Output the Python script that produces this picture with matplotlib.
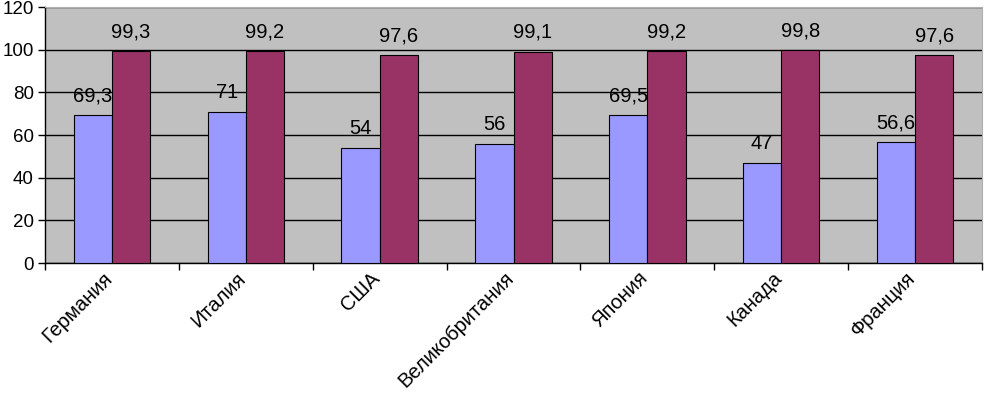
import numpy as np
import matplotlib.pyplot as plt

plt.rcParams['font.family'] = ['Liberation Sans', 'DejaVu Sans']

countries = ["Германия", "Италия", "США", "Великобритания", "Япония", "Канада", "Франция"]
series1 = [69.3, 71, 54, 56, 69.5, 47, 56.6]
series2 = [99.3, 99.2, 97.6, 99.1, 99.2, 99.8, 97.6]

fig = plt.figure(figsize=(9.84, 3.99), dpi=100)
ax = fig.add_axes([45/984, 1-263/399, 937/984, 256/399])

x = np.arange(len(countries))
w = 1/3.5
b1 = ax.bar(x - w/2, series1, w, color="#9999FF", edgecolor="black", linewidth=0.8, zorder=3)
b2 = ax.bar(x + w/2, series2, w, color="#993366", edgecolor="black", linewidth=0.8, zorder=3)

def fmt(v):
    return ("%g" % v).replace(".", ",")

for bars, vals in ((b1, series1), (b2, series2)):
    for r, v in zip(bars, vals):
        ax.annotate(fmt(v), (r.get_x() + r.get_width()/2, v), xytext=(0, 7),
                    textcoords="offset points", ha="center", va="bottom", fontsize=14.5)

ax.set_facecolor("#C0C0C0")
ax.set_xlim(-0.5, len(countries) - 0.5)
ax.set_ylim(0, 120)
ax.set_yticks(range(0, 121, 20))
ax.yaxis.grid(True, color="black", linewidth=1, zorder=1)
ax.set_axisbelow(True)

# category boundaries as major ticks, names as (invisible) minor ticks
ax.set_xticks(np.arange(len(countries) + 1) - 0.5)
ax.set_xticklabels([])
ax.set_xticks(x - 0.07, minor=True)
ax.set_xticklabels(countries, minor=True, rotation=45, ha="right", va="top",
                   rotation_mode="anchor", fontsize=14.5)
ax.tick_params(axis="x", which="minor", length=0, pad=4)
ax.tick_params(axis="x", which="major", length=5, width=1, direction="out")
ax.tick_params(axis="y", length=5, width=1, labelsize=13.5, pad=3)

for s in ("top", "right"):
    ax.spines[s].set_color("#B0B0B0")
for s in ("left", "bottom"):
    ax.spines[s].set_color("black")
    ax.spines[s].set_linewidth(1)

fig.savefig("out.png", dpi=100)
